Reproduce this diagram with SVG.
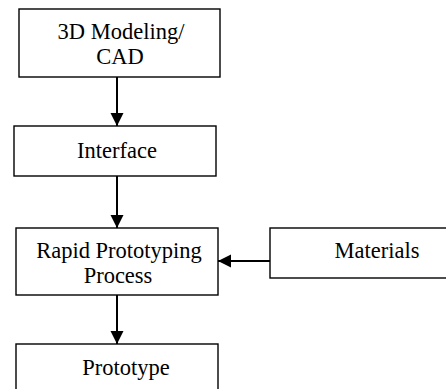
<svg xmlns="http://www.w3.org/2000/svg" width="446" height="389" viewBox="0 0 446 389">
  <defs>
    <style>
      .box { fill: #ffffff; stroke: #000000; stroke-width: 1.4; }
      .label { font-family: 'Liberation Serif', 'DejaVu Serif', serif; font-size: 22.5px; fill: #000000; text-anchor: middle; }
      .link { stroke: #000000; stroke-width: 2; fill: none; marker-end: url(#head); }
    </style>
    <marker id="head" markerWidth="14" markerHeight="14" refX="13" refY="6.5" orient="auto" markerUnits="userSpaceOnUse">
      <path d="M0,0 L13,6.5 L0,13 Z" fill="#000000"/>
    </marker>
  </defs>
  <rect width="446" height="389" fill="#ffffff"/>

  <g id="node-cad">
    <rect class="box" x="19" y="9" width="201" height="68"/>
    <text class="label" x="121" y="39">3D Modeling/</text>
    <text class="label" x="120" y="64">CAD</text>
  </g>

  <g id="node-interface">
    <rect class="box" x="14" y="126" width="202" height="50"/>
    <text class="label" x="117" y="158">Interface</text>
  </g>

  <g id="node-rp">
    <rect class="box" x="16" y="228" width="202" height="67"/>
    <text class="label" x="119" y="258">Rapid Prototyping</text>
    <text class="label" x="118" y="283">Process</text>
  </g>

  <g id="node-materials">
    <rect class="box" x="270" y="228" width="214" height="50"/>
    <text class="label" x="377" y="258">Materials</text>
  </g>

  <g id="node-prototype">
    <rect class="box" x="16" y="344" width="202" height="50"/>
    <text class="label" x="126" y="375">Prototype</text>
  </g>

  <g id="connectors">
    <line class="link" x1="117" y1="77" x2="117" y2="126"/>
    <line class="link" x1="117" y1="176" x2="117" y2="228"/>
    <line class="link" x1="117" y1="295" x2="117" y2="344"/>
    <line class="link" x1="270" y1="261" x2="218" y2="261"/>
  </g>
</svg>
